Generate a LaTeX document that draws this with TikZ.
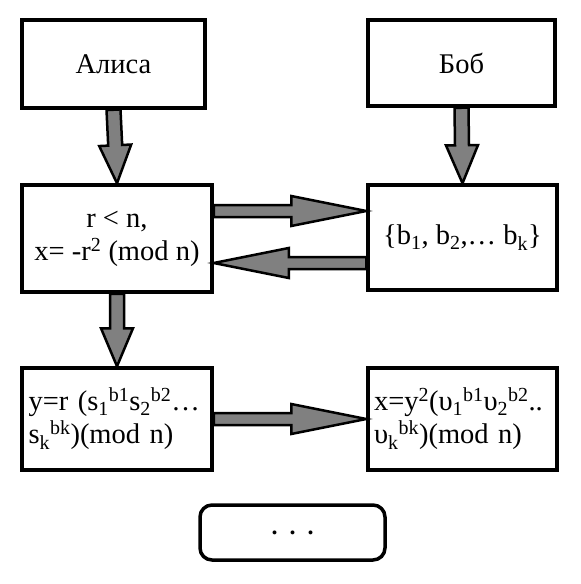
\documentclass[tikz,border=0pt]{standalone}
\usepackage{fontspec}
\setmainfont{Liberation Serif}
\usetikzlibrary{calc}
\definecolor{arrgray}{RGB}{128,128,128}
\tikzset{
  box/.style={draw, line width=3.5pt, inner sep=0pt, font=\fontsize{28.5}{33}\selectfont},
  barrow/.style={draw=black, fill=arrgray, line width=2.5pt, line join=miter}
}
\newcommand\blockarrow[5]{%
  \coordinate (bah) at ($(#2)!#5!(#1)$);
  \draw[barrow] ($(#1)!#3!90:(#2)$) -- ($(bah)!#3!90:(#2)$) -- ($(bah)!#4!90:(#2)$) -- (#2)
    -- ($(bah)!#4!-90:(#2)$) -- ($(bah)!#3!-90:(#2)$) -- ($(#1)!#3!-90:(#2)$) -- cycle;}
\begin{document}
\begin{tikzpicture}[x=1pt,y=-1pt]
\useasboundingbox (0,0) rectangle (581,584);
\node[box, minimum width=183pt, minimum height=88pt] (alice) at (113.5,64) {Алиса};
\node[box, minimum width=187pt, minimum height=86pt] (bob) at (461.5,63) {Боб};
\node[box, minimum width=190pt, minimum height=107pt, align=center] (ml) at (117,238.5)
  {r < n,\\x= -r\textsuperscript{2} (mod n)};
\node[box, minimum width=189pt, minimum height=105pt] (mr) at (462.5,237.5)
  {\{b\textsubscript{1}, b\textsubscript{2},… b\textsubscript{k}\}};
\node[box, minimum width=190pt, minimum height=102pt, text width=177pt, align=left] (bl) at (117,419)
  {y=r (s\textsubscript{1}\textsuperscript{b1}s\textsubscript{2}\textsuperscript{b2}…\\s\textsubscript{k}\textsuperscript{bk})(mod n)};
\node[box, minimum width=189pt, minimum height=102pt, text width=177pt, align=left] (br) at (462.5,419)
  {x=y\textsuperscript{2}(υ\textsubscript{1}\textsuperscript{b1}υ\textsubscript{2}\textsuperscript{b2}..\\υ\textsubscript{k}\textsuperscript{bk})(mod n)};
\node[box, rounded corners=12pt, minimum width=185pt, minimum height=55pt, font=\fontsize{24}{28}\bfseries] (dots) at (292.5,532.5) {.\hspace{12pt}.\hspace{12pt}.};
\blockarrow{alice.south}{ml.north}{7pt}{16pt}{38pt}
\blockarrow{bob.south}{mr.north}{7pt}{16pt}{38pt}
\blockarrow{ml.south}{bl.north}{7pt}{16pt}{38pt}
\coordinate (r1s) at ($(ml.east)+(0,-27.5)$);
\coordinate (r1e) at (r1s -| mr.west);
\coordinate (l1s) at ($(mr.west)+(0,25.5)$);
\coordinate (l1e) at (l1s -| ml.east);
\blockarrow{r1s}{r1e}{6pt}{15pt}{75pt}
\blockarrow{l1s}{l1e}{6pt}{15pt}{75pt}
\blockarrow{bl.east}{br.west}{6pt}{15pt}{75pt}
\end{tikzpicture}
\end{document}
